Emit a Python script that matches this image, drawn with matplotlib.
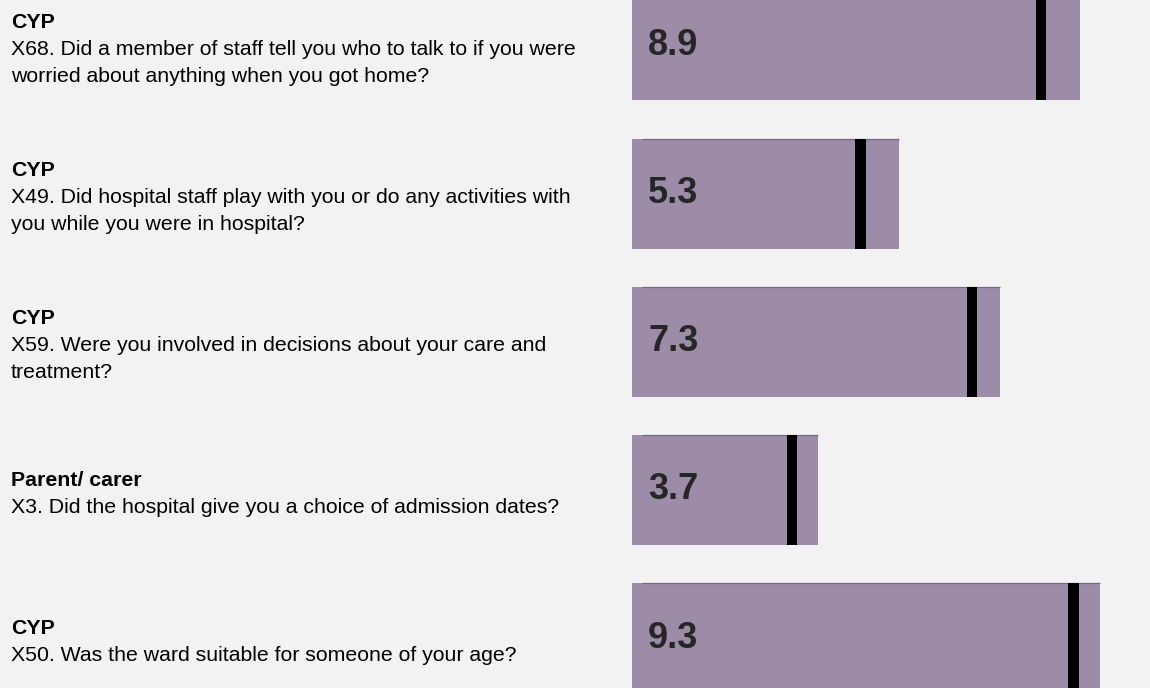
import matplotlib
matplotlib.use("Agg")
import matplotlib.pyplot as plt
import matplotlib.transforms as mtransforms

# data
groups = ["CYP", "CYP", "CYP", "Parent/ carer", "CYP"]
questions = [
    ["X68. Did a member of staff tell you who to talk to if you were",
     "worried about anything when you got home?"],
    ["X49. Did hospital staff play with you or do any activities with",
     "you while you were in hospital?"],
    ["X59. Were you involved in decisions about your care and",
     "treatment?"],
    ["X3. Did the hospital give you a choice of admission dates?"],
    ["X50. Was the ward suitable for someone of your age?"],
]
scores = [8.9, 5.3, 7.3, 3.7, 9.3]
markers = [8.12, 4.54, 6.75, 3.18, 8.77]

bg = "#f2f2f2"
bar_col = "#9c8ca7"

plt.rcParams["font.family"] = ["Liberation Sans", "DejaVu Sans"]

fig = plt.figure(figsize=(11.5, 6.88), dpi=100, facecolor=bg)
ax = fig.add_axes([632 / 1150, 0, 503.5 / 1150, 1])
ax.set_facecolor(bg)

ypos = list(range(len(scores)))
h = 0.74
ax.barh(ypos, scores, height=h, color=bar_col, zorder=2)
# thin darker edge along the top of each bar
ax.hlines([y - h / 2 for y in ypos], 0.2, scores, color="#74687d", lw=0.9, zorder=3)
mw = 0.21
ax.barh(ypos, [mw] * len(markers), left=[m - mw / 2 for m in markers],
        height=h, color="black", zorder=4)

for y, s in zip(ypos, scores):
    ax.text(0.32, y, f"{s:.1f}", fontsize=26, fontweight="bold",
            color="#262626", va="center", ha="left", zorder=5)

ax.set_xlim(0, 10)
ax.set_ylim(4 + 50 / 148.1, -45.7 / 148.1)
ax.axis("off")

# question labels on the left, tied to each bar's row
trans = mtransforms.blended_transform_factory(fig.transFigure, ax.transData)
step = 26.8 / 148.1
cap = 0.0496 + 2 / 148.1
for y, g, q in zip(ypos, groups, questions):
    lines = [g] + q
    n = len(lines)
    for i, line in enumerate(lines):
        yy = y + (i - (n - 1) / 2) * step + cap
        ax.text(11 / 1150, yy, line, transform=trans, fontsize=15.3,
                fontweight="bold" if i == 0 else "normal",
                color="black", va="baseline", ha="left")

fig.savefig("out.png", dpi=100, facecolor=bg)
